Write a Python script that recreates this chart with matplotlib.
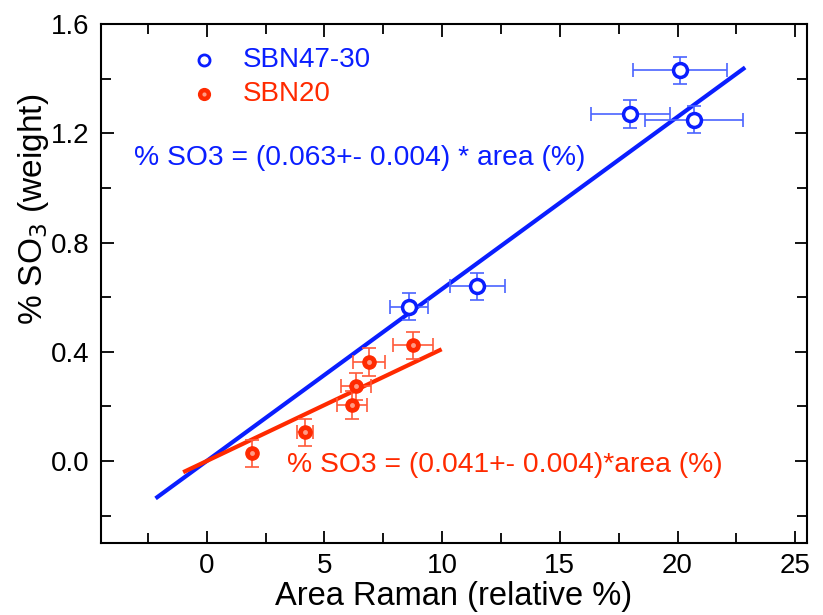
import matplotlib
matplotlib.use("Agg")
import matplotlib.pyplot as plt
import numpy as np
from matplotlib.ticker import MultipleLocator

plt.rcParams['font.family'] = ['Liberation Sans', 'DejaVu Sans']

# SBN47-30 (open blue circles)
sbn47_x = [8.6, 11.5, 18.0, 20.1, 20.7]
sbn47_y = [0.565, 0.64, 1.27, 1.43, 1.25]
sbn47_xerr = [0.8, 1.17, 1.66, 2.0, 2.1]
sbn47_yerr = [0.05, 0.05, 0.05, 0.05, 0.05]

# SBN20 (filled red circles)
sbn20_x = [1.93, 4.18, 6.17, 6.34, 6.9, 8.77]
sbn20_y = [0.028, 0.105, 0.205, 0.273, 0.363, 0.423]
sbn20_xerr = [0.0, 0.33, 0.62, 0.62, 0.67, 0.85]
sbn20_yerr = [0.05, 0.05, 0.05, 0.05, 0.05, 0.05]

# linear fits through origin
blue_slope = 0.063
blue_range = [-2.1, 22.8]
red_slope = 0.041
red_range = [-0.92, 9.9]

blue = '#0a1eff'
blue_light = '#4a64ff'
red = '#ff2a00'
red_light = '#ff5a3a'

fig = plt.figure(figsize=(8.23, 6.15), dpi=100)
ax = fig.add_axes([0.1224, 0.1171, 0.8582, 0.8439])

xb = np.array(blue_range)
ax.plot(xb, blue_slope * xb, color=blue, lw=3, zorder=2)
xr = np.array(red_range)
ax.plot(xr, red_slope * xr, color=red, lw=3, zorder=2)

ax.errorbar(sbn47_x, sbn47_y, xerr=sbn47_xerr, yerr=sbn47_yerr, fmt='none',
            ecolor=blue_light, elinewidth=1.2, capsize=5, capthick=1.2, zorder=3)
ax.plot(sbn47_x, sbn47_y, 'o', ms=10, mfc='white', mec=blue, mew=2.5, zorder=4)

ax.errorbar(sbn20_x, sbn20_y, xerr=sbn20_xerr, yerr=sbn20_yerr, fmt='none',
            ecolor=red_light, elinewidth=1.2, capsize=5, capthick=1.2, zorder=3)
ax.plot(sbn20_x, sbn20_y, 'o', ms=9.5, mfc=red, mec=red, mew=1, zorder=4)
ax.plot(sbn20_x, sbn20_y, 'o', ms=3.5, mfc='#ffb8a8', mec='none', alpha=0.8, zorder=5)

# legend
ax.plot([-0.13], [1.468], 'o', ms=8, mfc='white', mec=blue, mew=2)
ax.plot([-0.13], [1.344], 'o', ms=8.5, mfc=red, mec=red)
ax.plot([-0.13], [1.344], 'o', ms=3, mfc='#ffb8a8', mec='none', alpha=0.8)
ax.text(1.55, 1.468, 'SBN47-30', color=blue, fontsize=20, va='center', ha='left')
ax.text(1.55, 1.344, 'SBN20', color=red, fontsize=20, va='center', ha='left')

ax.text(-3.1, 1.11, '% SO3 = (0.063+- 0.004) * area (%)', color=blue,
        fontsize=20.3, va='center', ha='left')
ax.text(3.42, -0.015, '% SO3 = (0.041+- 0.004)*area (%)', color=red,
        fontsize=20.3, va='center', ha='left')

ax.set_xlim(-4.5, 25.5)
ax.set_ylim(-0.3, 1.6)
ax.xaxis.set_major_locator(MultipleLocator(5))
ax.xaxis.set_minor_locator(MultipleLocator(2.5))
ax.yaxis.set_major_locator(MultipleLocator(0.4))
ax.yaxis.set_minor_locator(MultipleLocator(0.2))
ax.yaxis.set_major_formatter(plt.FuncFormatter(lambda v, p: '%.1f' % v))

ax.tick_params(which='both', direction='in', top=True, right=True,
               width=1.3, labelsize=20)
ax.tick_params(axis='y', pad=8)
ax.tick_params(axis='x', pad=7)
ax.tick_params(which='major', length=9)
ax.tick_params(which='minor', length=7)
for s in ax.spines.values():
    s.set_linewidth(1.5)

ax.set_xlabel('Area Raman (relative %)', fontsize=23.5)
ax.xaxis.set_label_coords(0.5, -0.104)
ax.xaxis.label.set_va('center')
ax.set_ylabel('% SO$_3$ (weight)', fontsize=24)
ax.yaxis.set_label_coords(-0.0955, 0.642)
ax.yaxis.label.set_va('center')

fig.savefig('out.png', dpi=100)
